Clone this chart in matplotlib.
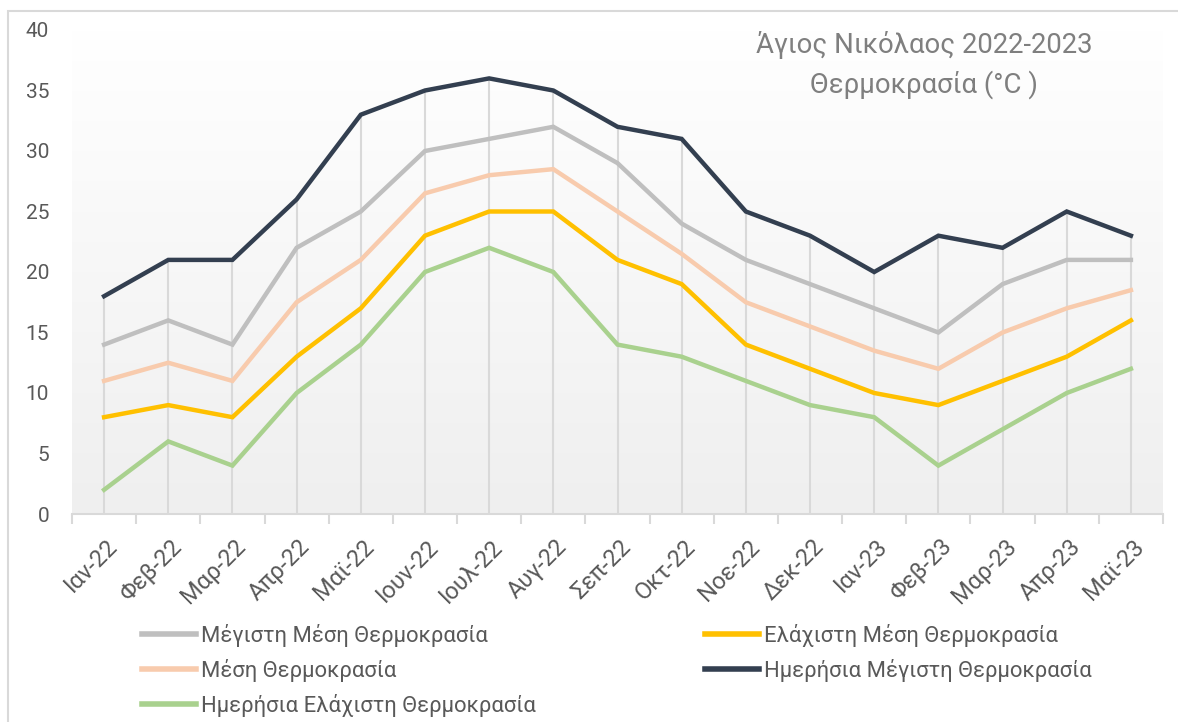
import numpy as np
import matplotlib
matplotlib.use("Agg")
import matplotlib.pyplot as plt
import matplotlib.transforms as mtransforms
from matplotlib.patches import Rectangle

plt.rcParams['font.family'] = ['Roboto', 'DejaVu Sans']

months = ["Ιαν-22", "Φεβ-22", "Μαρ-22", "Απρ-22", "Μαϊ-22", "Ιουν-22", "Ιουλ-22", "Αυγ-22",
          "Σεπ-22", "Οκτ-22", "Νοε-22", "Δεκ-22", "Ιαν-23", "Φεβ-23", "Μαρ-23", "Απρ-23", "Μαϊ-23"]

max_mean = [14, 16, 14, 22, 25, 30, 31, 32, 29, 24, 21, 19, 17, 15, 19, 21, 21]
min_mean = [8, 9, 8, 13, 17, 23, 25, 25, 21, 19, 14, 12, 10, 9, 11, 13, 16]
mean_t = [11, 12.5, 11, 17.5, 21, 26.5, 28, 28.5, 25, 21.5, 17.5, 15.5, 13.5, 12, 15, 17, 18.5]
daily_max = [18, 21, 21, 26, 33, 35, 36, 35, 32, 31, 25, 23, 20, 23, 22, 25, 23]
daily_min = [2, 6, 4, 10, 14, 20, 22, 20, 14, 13, 11, 9, 8, 4, 7, 10, 12]

labels = ["Μέγιστη Μέση Θερμοκρασία", "Ελάχιστη Μέση Θερμοκρασία", "Μέση Θερμοκρασία",
          "Ημερήσια Μέγιστη Θερμοκρασία", "Ημερήσια Ελάχιστη Θερμοκρασία"]
title_lines = ["Άγιος Νικόλαος 2022-2023", "Θερμοκρασία (°C )"]
yticks = [0, 5, 10, 15, 20, 25, 30, 35, 40]

W, H = 1178, 722
fig = plt.figure(figsize=(W / 100, H / 100), dpi=100)
fig.patch.set_facecolor("white")

# outer chart border
fig.patches.append(Rectangle((8 / W, -0.1), 1.2, 1.1 - 11 / H, transform=fig.transFigure,
                             fill=False, edgecolor="#d9d9d9", lw=1.5))

ax_l, ax_r, ax_b, ax_t = 72, 1163, 514, 30
ax = fig.add_axes([ax_l / W, (H - ax_b) / H, (ax_r - ax_l) / W, (ax_b - ax_t) / H])
n = len(months)
x = np.arange(n)
ax.set_xlim(-0.5, n - 0.5)
ax.set_ylim(0, 40)

# gradient background
grad = np.linspace(1, 0, 256).reshape(-1, 1)
top = np.array([1.0, 1.0, 1.0])
bot = np.array([0xef, 0xef, 0xef]) / 255.0
img = top[None, None, :] * grad[:, :, None] + bot[None, None, :] * (1 - grad[:, :, None])
ax.imshow(img, extent=(-0.5, n - 0.5, 0, 40), aspect="auto", zorder=0, origin="upper")

# drop lines
ax.vlines(x, 0, daily_max, colors="#d9d9d9", lw=1.5, zorder=1)

series = [
    (max_mean, "#bfbfbf", labels[0]),
    (min_mean, "#ffc000", labels[1]),
    (mean_t, "#f8cbad", labels[2]),
    (daily_max, "#333f50", labels[3]),
    (daily_min, "#a9d18e", labels[4]),
]
handles = {}
for vals, col, lab in series:
    h, = ax.plot(x, vals, color=col, lw=3.2, solid_joinstyle="miter", zorder=3, label=lab)
    handles[lab] = h

for s in ["top", "right", "left"]:
    ax.spines[s].set_visible(False)
ax.spines["bottom"].set_color("#d9d9d9")
ax.spines["bottom"].set_linewidth(1.5)

ax.set_yticks(yticks)
ax.tick_params(axis="y", length=0, pad=16.5, labelsize=15, labelcolor="#595959")
ax.set_xticks(np.arange(-0.5, n, 1.0), minor=False)
ax.set_xticklabels([])
ax.tick_params(axis="x", which="major", length=7, width=1.5, color="#d9d9d9", direction="out")
ax.set_xticks(x, minor=True)
ax.tick_params(axis="x", which="minor", length=0, pad=21)
ax.set_xticklabels(months, minor=True, rotation=45, ha="right", va="center",
                   rotation_mode="anchor", fontsize=17, color="#595959")

offset = mtransforms.ScaledTranslation(10 / 100, 0, fig.dpi_scale_trans)
for lbl in ax.get_xticklabels(minor=True):
    lbl.set_transform(lbl.get_transform() + offset)

# title
fig.text(924 / W, 1 - 45 / H, title_lines[0], ha="center", va="center", fontsize=19.8, color="#7f7f7f")
fig.text(924 / W, 1 - 85 / H, title_lines[1], ha="center", va="center", fontsize=19.8, color="#7f7f7f")

# legends
col1 = [handles[labels[0]], handles[labels[2]], handles[labels[4]]]
col2 = [handles[labels[1]], handles[labels[3]]]
kw = dict(frameon=False, loc="upper left", borderpad=0, borderaxespad=0, handlelength=2.47,
          handletextpad=0.2, labelspacing=0.55, fontsize=15.8, labelcolor="#595959")
leg1 = fig.legend(col1, [h.get_label() for h in col1], bbox_to_anchor=(142 / W, 1 - 624 / H), **kw)
leg2 = fig.legend(col2, [h.get_label() for h in col2], bbox_to_anchor=(705 / W, 1 - 624 / H), **kw)
for lg in (leg1, leg2):
    for ln in lg.get_lines():
        ln.set_linewidth(4)

fig.savefig("out.png", dpi=100)
